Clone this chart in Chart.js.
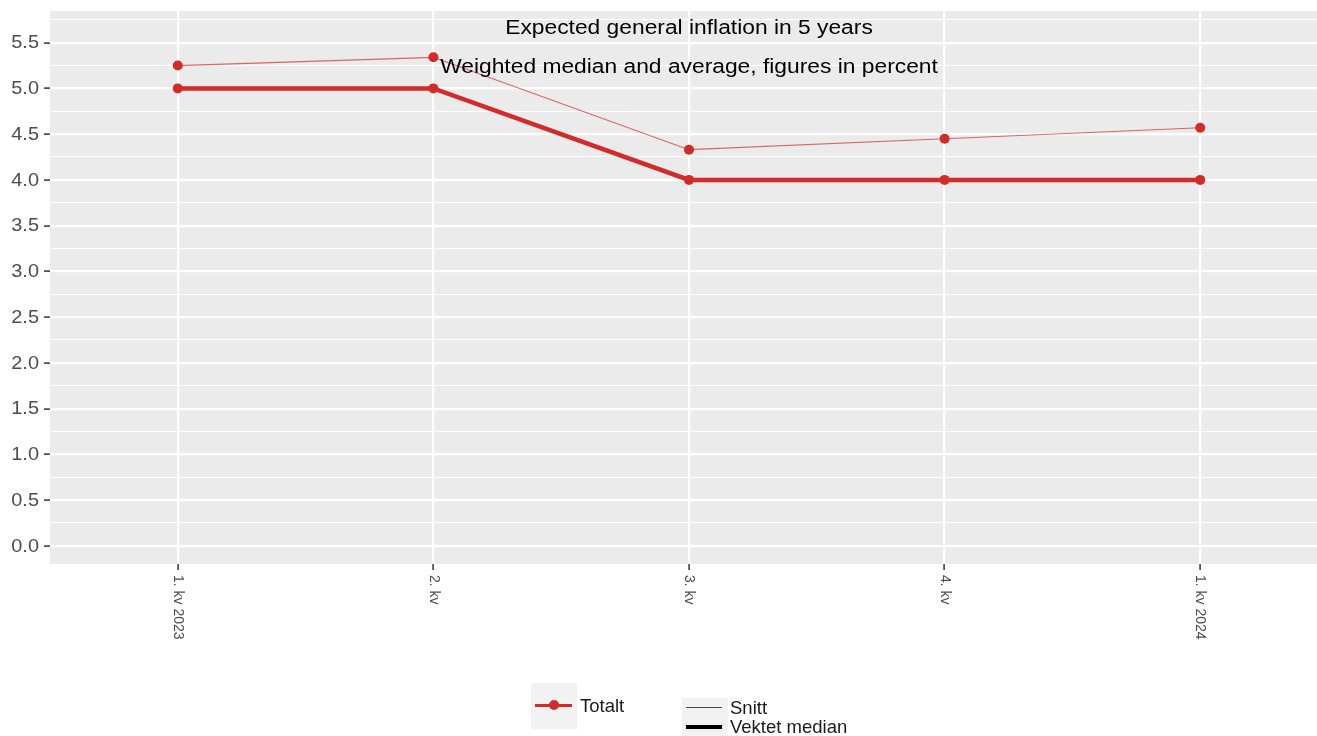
<!doctype html>
<html lang="en">

<head>
    <meta charset="UTF-8" />
    <title>Expected general inflation in 5 years</title>
    <script src="https://cdn.jsdelivr.net/npm/chart.js"></script>
    <style>
        html, body { margin: 0; padding: 0; overflow: hidden; background: #ffffff; }
        #wrap { position: relative; width: 1333px; height: 736px; }
        .key { position: absolute; background: #f2f2f2; }
        .lbl { position: absolute; font-family: "Liberation Sans", Arial, sans-serif; font-size: 18.5px; color: #1a1a1a; line-height: 20px; }
        .ln { position: absolute; }
    </style>
</head>

<body>
    <div id="wrap">
        <canvas id="myChart"></canvas>

        <!-- legend: colour -->
        <div class="key" style="left:531px; top:683px; width:46px; height:46px;"></div>
        <div class="ln" style="left:535px; top:704px; width:37px; height:3px; background:#d32a2a;"></div>
        <div class="ln" style="left:549px; top:700px; width:10px; height:10px; border-radius:50%; background:#d32a2a;"></div>
        <div class="lbl" style="left:580px; top:696px;">Totalt</div>

        <!-- legend: line width -->
        <div class="key" style="left:682px; top:698px; width:46px; height:40px;"></div>
        <div class="ln" style="left:686px; top:707px; width:36px; height:1px; background:#4d4d4d;"></div>
        <div class="ln" style="left:686px; top:725px; width:36px; height:4px; background:#000000;"></div>
        <div class="lbl" style="left:730px; top:698px;">Snitt</div>
        <div class="lbl" style="left:730px; top:717px;">Vektet median</div>
    </div>

    <script>

        const quarters = ["1. kv 2023", "2. kv", "3. kv", "4. kv", "1. kv 2024"];
        const snitt = [5.25, 5.34, 4.33, 4.45, 4.57];
        const median = [5.0, 5.0, 4.0, 4.0, 4.0];

        const titleText = "Expected general inflation in 5 years";
        const subtitleText = "Weighted median and average, figures in percent";

        const red = "#d32a2a";

        function isMajor(v) {
            return Math.abs(Math.round(v * 2) - v * 2) < 1e-6;
        }

        /* text drawn a bit wider, like the original */
        function wideText(c, txt, x, y, sx) {
            c.save();
            c.translate(x, y);
            c.scale(sx, 1);
            c.fillText(txt, 0, 0);
            c.restore();
        }

        /* grey panel behind the grid */
        const panelBg = {
            id: "panelBg",
            beforeDraw(chart) {
                const a = chart.chartArea;
                const c = chart.ctx;
                c.save();
                c.fillStyle = "#ebebeb";
                c.fillRect(a.left, a.top, a.right - a.left, a.bottom - a.top);
                c.restore();
            }
        };

        /* title texts inside the panel, y labels, rotated x labels */
        const extras = {
            id: "extras",
            afterDatasetsDraw(chart) {
                const c = chart.ctx;
                const xs = chart.scales.x;
                const ys = chart.scales.y;
                c.save();
                c.fillStyle = "#000000";
                c.font = "20px 'Liberation Sans', Arial, sans-serif";
                c.textAlign = "center";
                c.textBaseline = "middle";
                const cx = xs.getPixelForValue(2);
                wideText(c, titleText, cx, ys.getPixelForValue(5.66), 1.14);
                wideText(c, subtitleText, cx, ys.getPixelForValue(5.234), 1.14);

                // y tick labels
                c.fillStyle = "#4d4d4d";
                c.font = "17.5px 'Liberation Sans', Arial, sans-serif";
                c.textAlign = "right";
                ys.ticks.forEach(t => {
                    if (isMajor(t.value)) {
                        wideText(c, t.value.toFixed(1), 39, ys.getPixelForValue(t.value) + 1, 1.14);
                    }
                });

                // x tick labels, top to bottom
                c.font = "14px 'Liberation Sans', Arial, sans-serif";
                c.textAlign = "left";
                quarters.forEach((q, i) => {
                    c.save();
                    c.translate(xs.getPixelForValue(i), ys.bottom + 11);
                    c.rotate(Math.PI / 2);
                    c.fillText(q, 0, 0);
                    c.restore();
                });
                c.restore();
            }
        };

        const ctx = document.getElementById('myChart');

        new Chart(ctx, {
            type: "line",
            data: {
                labels: quarters,
                datasets: [
                    {
                        label: "Snitt",
                        data: snitt,
                        borderColor: "rgba(211, 42, 42, 0.7)",
                        borderWidth: 1.2,
                        backgroundColor: red,
                        pointBackgroundColor: red,
                        pointBorderWidth: 0,
                        pointRadius: 5,
                        tension: 0
                    },
                    {
                        label: "Vektet median",
                        data: median,
                        borderColor: red,
                        borderWidth: 4.5,
                        backgroundColor: red,
                        pointBackgroundColor: red,
                        pointBorderWidth: 0,
                        pointRadius: 5,
                        tension: 0
                    }
                ]
            },
            options: {
                responsive: true,
                maintainAspectRatio: false,
                animation: false,
                layout: { padding: { top: 11, right: 0, left: 0, bottom: 0 } },
                plugins: {
                    legend: { display: false },
                    title: { display: false },
                    tooltip: { enabled: false }
                },
                scales: {
                    x: {
                        type: "category",
                        offset: true,
                        border: { display: false },
                        grid: {
                            offset: false,
                            color: "#ffffff",
                            lineWidth: 2.2,
                            drawTicks: true,
                            tickLength: 6,
                            tickColor: "#333333",
                            tickWidth: 1.5
                        },
                        ticks: { display: false },
                        afterFit: s => { s.height = 172; }
                    },
                    y: {
                        min: -0.198,
                        max: 5.846,
                        border: { display: false },
                        grid: {
                            color: "#ffffff",
                            lineWidth: c => isMajor(c.tick.value) ? 2.2 : 1.1,
                            drawTicks: true,
                            tickLength: 6,
                            tickColor: c => isMajor(c.tick.value) ? "#333333" : "rgba(0,0,0,0)",
                            tickWidth: 1.5
                        },
                        ticks: {
                            display: false,
                            stepSize: 0.25,
                            includeBounds: false,
                            autoSkip: false
                        },
                        afterFit: s => { s.width = 50; }
                    }
                }
            },
            plugins: [panelBg, extras]
        });

    </script>
</body>

</html>
